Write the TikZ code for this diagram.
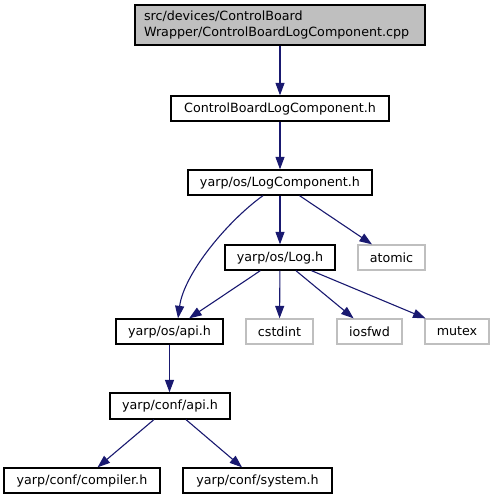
\documentclass[tikz,border=0pt]{standalone}
\usepackage{fontspec}
\setmainfont{DejaVu Sans}
\usetikzlibrary{arrows.meta}
\definecolor{edgeblue}{RGB}{25,25,112}
\definecolor{sysgray}{RGB}{191,191,191}
\begin{document}
\begin{tikzpicture}[x=1pt,y=1pt,
  font=\fontsize{12.7}{15.5}\selectfont,
  filebox/.style={draw=black, line width=1.3pt, fill=white, minimum height=25pt, inner sep=0pt},
  sysbox/.style={draw=sysgray, line width=1.3pt, fill=white, minimum height=25pt, inner sep=0pt},
  edge/.style={draw=edgeblue, line width=1.1pt, -{Triangle[length=12.5pt,width=9pt]}}]
\useasboundingbox (0,0) rectangle (495,-500);

% source file
\node[draw=black, line width=1.3pt, fill=sysgray, minimum width=290pt, minimum height=40pt,
      text width=272pt, inner xsep=9pt, inner ysep=0pt, align=left] (src) at (280,-25)
  {src/devices/ControlBoard\\Wrapper/ControlBoardLogComponent.cpp};

% included headers
\node[filebox, minimum width=218pt] (cblc) at (280,-108.5) {ControlBoardLogComponent.h};
\node[filebox, minimum width=184pt] (lc) at (280,-182.5) {yarp/os/LogComponent.h};
\node[filebox, minimum width=110pt] (log) at (280,-257.5) {yarp/os/Log.h};
\node[sysbox, minimum width=67pt] (atomic) at (391.5,-257.5) {atomic};
\node[filebox, minimum width=107pt] (osapi) at (169.5,-331.5) {yarp/os/api.h};
\node[sysbox, minimum width=67pt] (cstdint) at (279.5,-331.5) {cstdint};
\node[sysbox, minimum width=65pt] (iosfwd) at (369.5,-331.5) {iosfwd};
\node[sysbox, minimum width=64pt] (mutex) at (457,-331.5) {mutex};
\node[filebox, minimum width=120pt, minimum height=26pt] (confapi) at (170,-406) {yarp/conf/api.h};
\node[filebox, minimum width=156pt] (compiler) at (82,-480.5) {yarp/conf/compiler.h};
\node[filebox, minimum width=149pt] (system) at (257.5,-480.5) {yarp/conf/system.h};

% include edges
\draw[edge] (src) -- (cblc);
\draw[edge] (cblc) -- (lc);
\draw[edge] (lc) -- (log);
\draw[edge] (lc) -- (atomic);
\draw[edge] ([xshift=-17pt]lc.south) .. controls +(-35,-25) and +(6,45) .. ([xshift=8.5pt]osapi.north);
\draw[edge] (log) -- (osapi);
\draw[edge] (log) -- (cstdint);
\draw[edge] (log) -- (iosfwd);
\draw[edge] (log) -- (mutex);
\draw[edge] (osapi.south) -- (osapi.south |- confapi.north);
\draw[edge] (confapi) -- (compiler);
\draw[edge] (confapi) -- (system);
\end{tikzpicture}
\end{document}
